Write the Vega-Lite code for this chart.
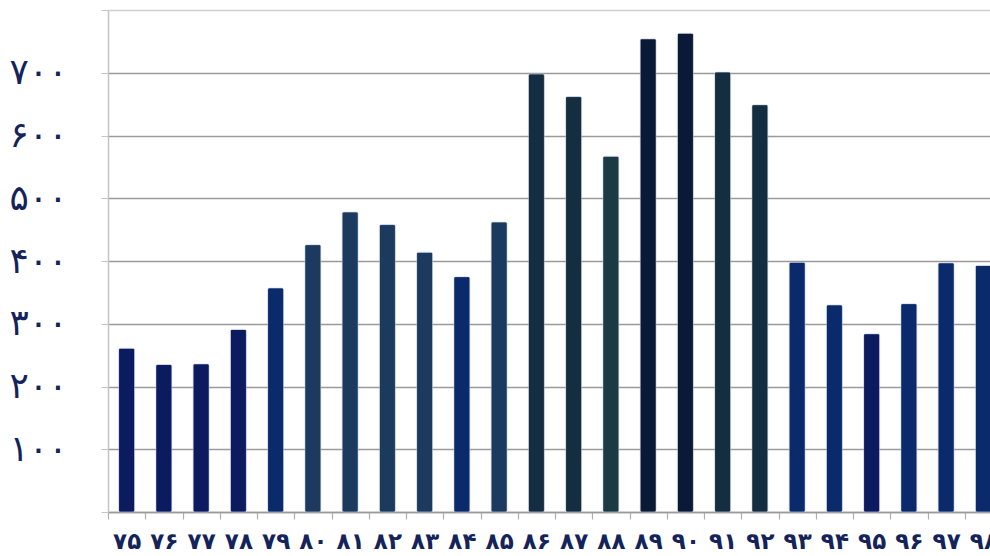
{
  "$schema": "https://vega.github.io/schema/vega-lite/v6.json",
  "width": 882,
  "height": 502,
  "autosize": {"type": "none"},
  "padding": {"left": 108, "top": 10, "right": 0, "bottom": 44},
  "background": "#ffffff",
  "config": {"view": {"stroke": null}},
  "data": {
    "values": [
      {"year": "۷۵", "value": 261, "group": "a"},
      {"year": "۷۶", "value": 235, "group": "a"},
      {"year": "۷۷", "value": 236, "group": "a"},
      {"year": "۷۸", "value": 291, "group": "a"},
      {"year": "۷۹", "value": 357, "group": "b"},
      {"year": "۸۰", "value": 426, "group": "c"},
      {"year": "۸۱", "value": 478, "group": "c"},
      {"year": "۸۲", "value": 458, "group": "c"},
      {"year": "۸۳", "value": 414, "group": "c"},
      {"year": "۸۴", "value": 375, "group": "b"},
      {"year": "۸۵", "value": 462, "group": "c"},
      {"year": "۸۶", "value": 698, "group": "d"},
      {"year": "۸۷", "value": 662, "group": "d"},
      {"year": "۸۸", "value": 567, "group": "e"},
      {"year": "۸۹", "value": 754, "group": "f"},
      {"year": "۹۰", "value": 763, "group": "f"},
      {"year": "۹۱", "value": 701, "group": "d"},
      {"year": "۹۲", "value": 649, "group": "d"},
      {"year": "۹۳", "value": 398, "group": "b"},
      {"year": "۹۴", "value": 330, "group": "b"},
      {"year": "۹۵", "value": 284, "group": "a"},
      {"year": "۹۶", "value": 332, "group": "b"},
      {"year": "۹۷", "value": 397, "group": "b"},
      {"year": "۹۸", "value": 393, "group": "b"}
    ]
  },
  "mark": {"type": "bar", "width": {"band": 0.43}, "cornerRadius": 2, "stroke": "#b8c4dc", "strokeWidth": 0.6, "strokeOpacity": 0.7},
  "encoding": {
    "x": {
      "field": "year",
      "type": "nominal",
      "sort": null,
      "title": null,
      "scale": {"paddingInner": 0, "paddingOuter": 0, "range": [0, 894]},
      "axis": {
        "domain": true,
        "domainColor": "#9a9a9a",
        "domainWidth": 1.5,
        "ticks": true,
        "tickBand": "extent",
        "tickColor": "#b0b0b0",
        "tickSize": 7,
        "tickWidth": 1.2,
        "grid": false,
        "labelAngle": 0,
        "labelFont": "DejaVu Sans",
        "labelFontSize": 23,
        "labelFontWeight": "bold",
        "labelColor": "#14235a",
        "labelBaseline": "middle",
        "labelPadding": 22
      }
    },
    "y": {
      "field": "value",
      "type": "quantitative",
      "title": null,
      "scale": {"domain": [0, 800], "nice": false},
      "axis": {
        "values": [0, 100, 200, 300, 400, 500, 600, 700, 800],
        "domain": true,
        "domainColor": "#c4c4c4",
        "domainWidth": 1.5,
        "grid": true,
        "gridColor": {"condition": {"test": "datum.value === 800", "value": "#cfcfcf"}, "value": "#9a9a9a"},
        "gridWidth": 1.5,
        "ticks": true,
        "tickColor": "#c4c4c4",
        "tickSize": 7,
        "labelFont": "DejaVu Sans",
        "labelFontSize": 36,
        "labelColor": "#14235a",
        "labelPadding": 34,
        "labelExpr": "datum.value == 100 ? '۱۰۰' : datum.value == 200 ? '۲۰۰' : datum.value == 300 ? '۳۰۰' : datum.value == 400 ? '۴۰۰' : datum.value == 500 ? '۵۰۰' : datum.value == 600 ? '۶۰۰' : datum.value == 700 ? '۷۰۰' : ''"
      }
    },
    "color": {
      "field": "group",
      "type": "nominal",
      "legend": null,
      "scale": {
        "domain": ["a", "b", "c", "d", "e", "f"],
        "range": ["#0c1a60", "#0a2a6b", "#1b3a5e", "#152d40", "#1b3a44", "#0a1a36"]
      }
    }
  }
}
